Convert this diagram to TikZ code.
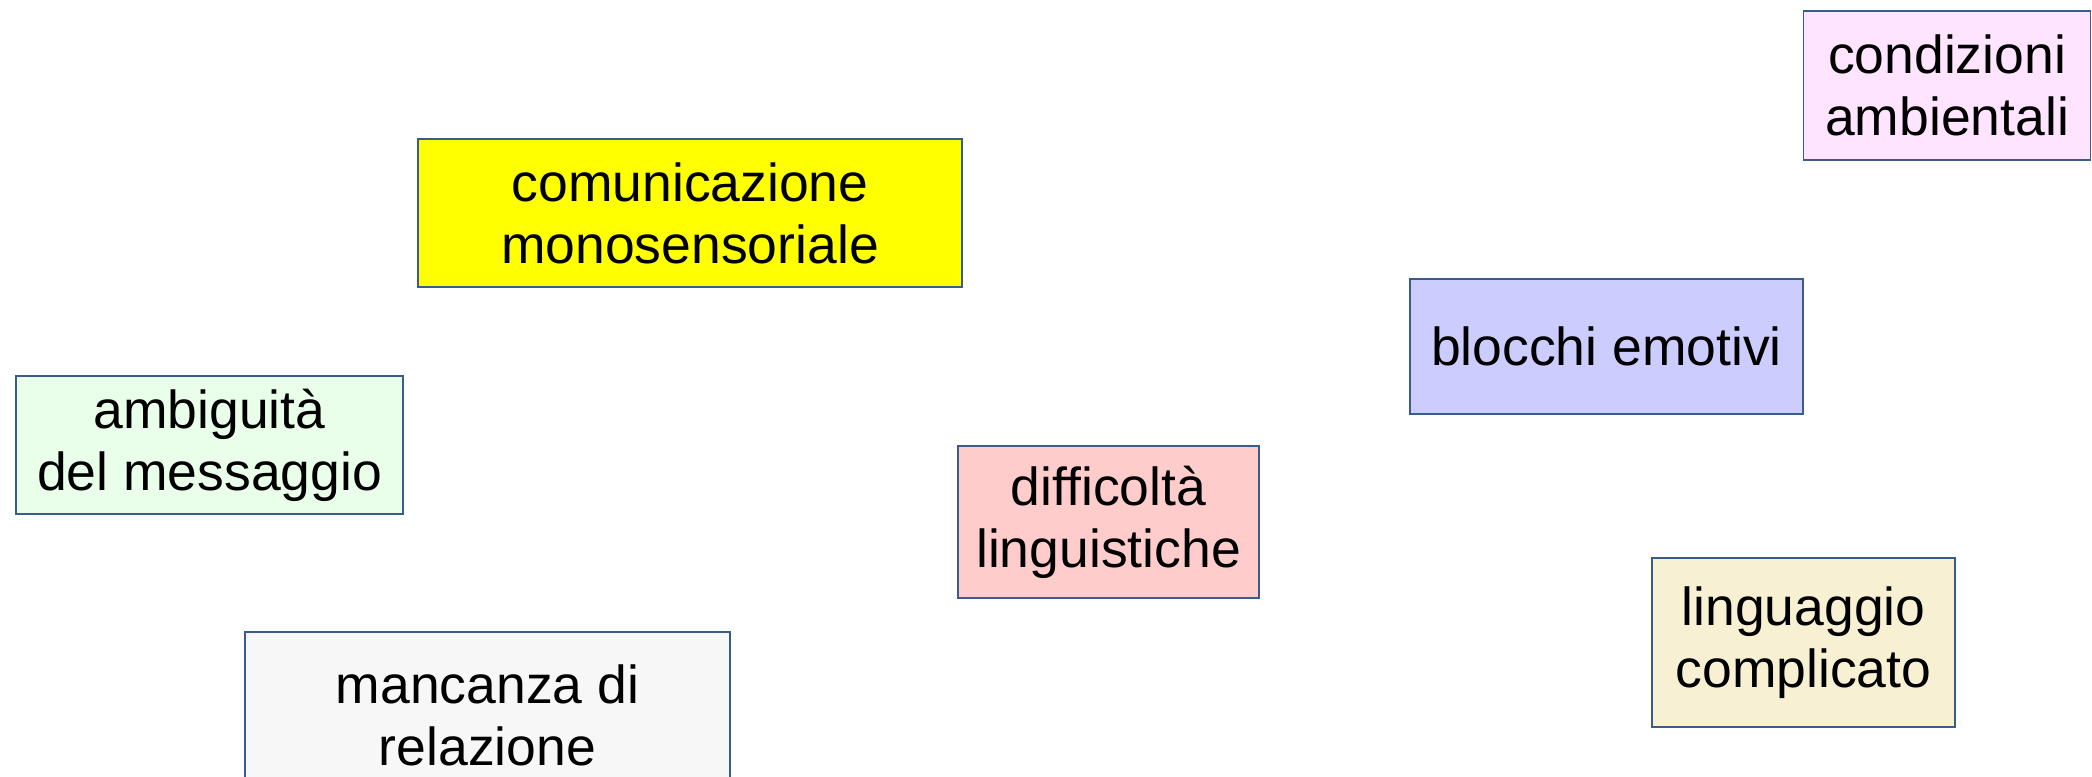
\documentclass[tikz,border=0pt]{standalone}
\usepackage{fontspec}
\setmainfont{Liberation Sans}
\definecolor{edgeblue}{RGB}{56,93,138}
\definecolor{fillyellow}{RGB}{255,255,0}
\definecolor{fillpink}{RGB}{255,228,255}
\definecolor{filllilac}{RGB}{204,204,255}
\definecolor{fillgreen}{RGB}{234,255,234}
\definecolor{fillrose}{RGB}{255,204,204}
\definecolor{fillcream}{RGB}{247,240,210}
\definecolor{fillgrey}{RGB}{247,247,247}
\tikzset{
  barrier/.style={draw=edgeblue, line width=0.8pt, align=center, inner sep=0pt,
    font=\fontsize{26.75}{31}\selectfont, execute at begin node={\vspace*{4pt}}},
}

\begin{document}
\begin{tikzpicture}[x=0.5pt,y=-0.5pt]
\clip (0,0) rectangle (2092,776);
\node[barrier, fill=fillyellow, minimum width=272pt, minimum height=74pt] (mono) at (690,213) {comunicazione\\monosensoriale};
\node[barrier, fill=fillpink, minimum width=143.5pt, minimum height=74.5pt] (amb) at (1947,85.5) {condizioni\\ambientali};
\node[barrier, fill=filllilac, minimum width=196.5pt, minimum height=67.5pt] (emo) at (1606.5,346.5) {blocchi emotivi};
\node[barrier, fill=fillgreen, minimum width=193.5pt, minimum height=69pt] (msg) at (209.5,445) {ambiguità\\del messaggio};
\node[barrier, fill=fillrose, minimum width=150.5pt, minimum height=76pt] (ling) at (1108.5,522) {difficoltà\\linguistiche};
\node[barrier, fill=fillcream, minimum width=151.5pt, minimum height=84.5pt] (compl) at (1803.5,642.5) {linguaggio\\complicato};
\node[barrier, fill=fillgrey, minimum width=242.5pt, minimum height=83pt] (rel) at (487.5,715) {mancanza di\\relazione};
\end{tikzpicture}
\end{document}
